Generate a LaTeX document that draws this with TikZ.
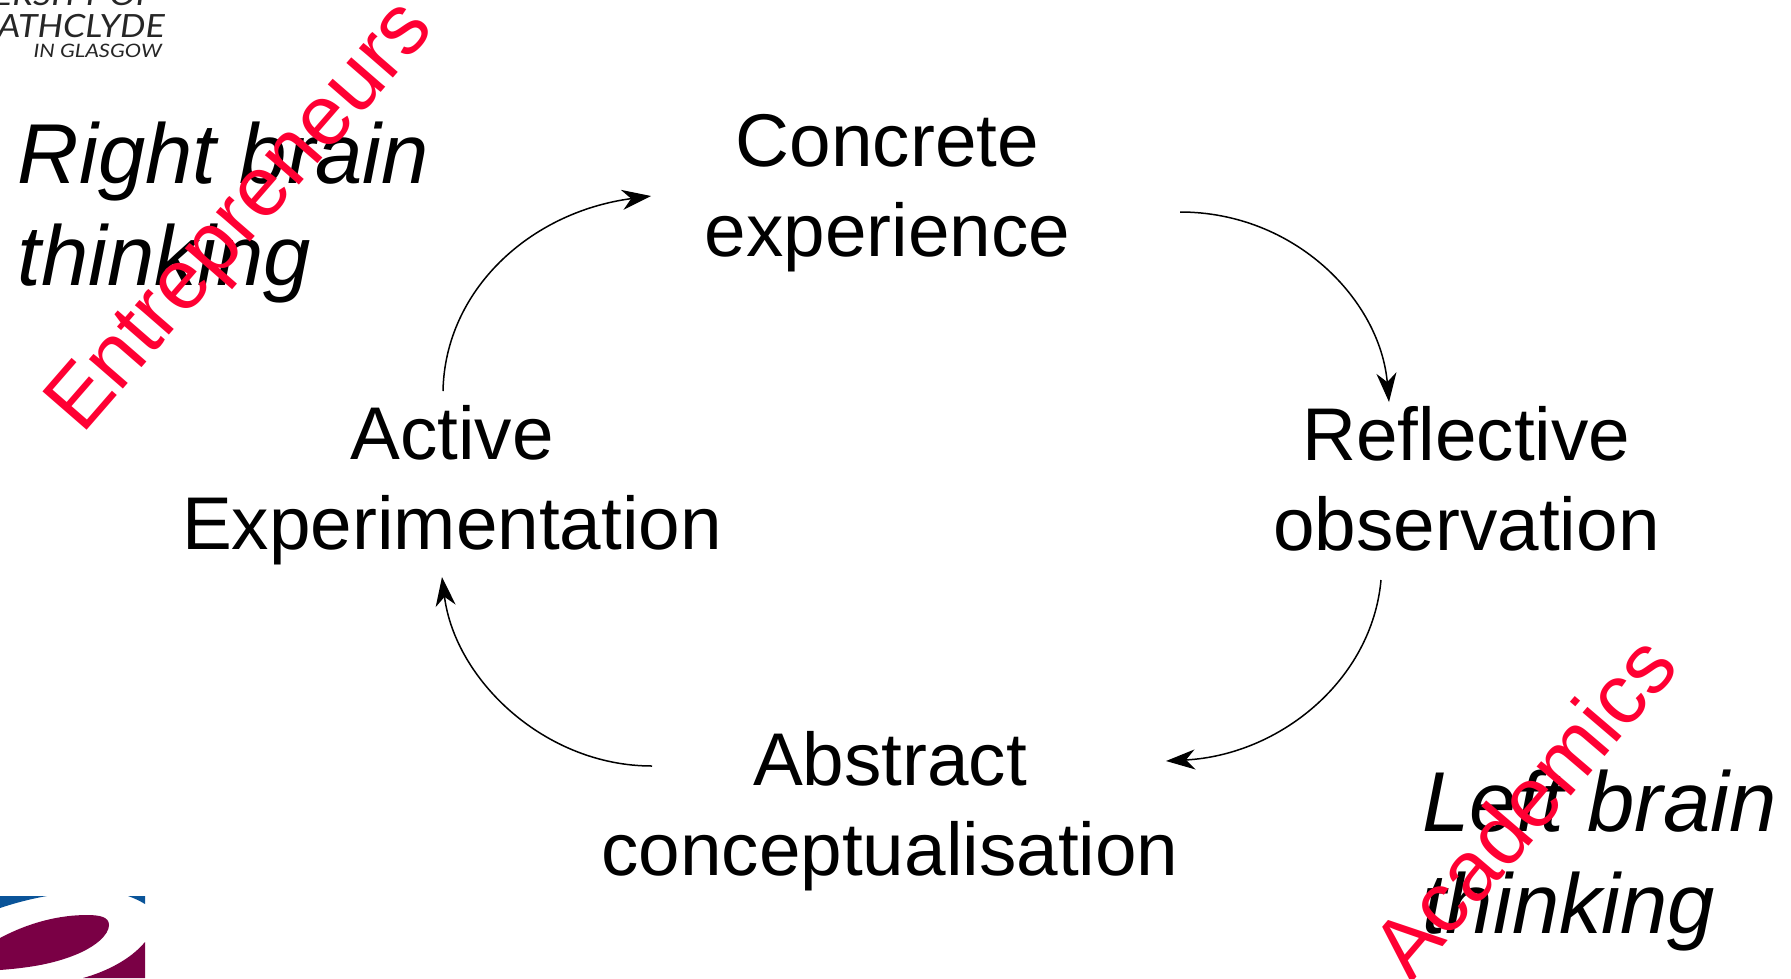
\documentclass[tikz,border=0pt]{standalone}
\usepackage{fontspec}
\setmainfont{Liberation Sans}
\newfontfamily\logofont{Lato}
\usetikzlibrary{arrows.meta}
\definecolor{redword}{HTML}{FF0033}
\definecolor{logoblue}{HTML}{0A5499}
\definecolor{logomaroon}{HTML}{7A0045}
\tikzset{
  stage/.style={font=\fontsize{74.7}{90}\selectfont,align=center,inner sep=0pt,anchor=center,text=black},
  brain/.style={font=\fontsize{85}{102}\selectfont\itshape,align=left,inner sep=0pt,anchor=center,text=black},
  tag/.style={font=\fontsize{85}{90}\selectfont,text=redword,inner sep=0pt,anchor=base west},
  cyc/.style={line width=1.5pt,-{Stealth[length=29pt,width=20pt,inset=9pt]}},
  logotext/.style={text=black!85,inner sep=0pt,anchor=base east}
}
\begin{document}
\begin{tikzpicture}[x=1pt,y=-1pt]
\useasboundingbox (0,0) rectangle (1791,978);
\clip (0,0) rectangle (1791,978);
\fill[white] (0,0) rectangle (1791,978);
% bottom-left logo fragment
\fill[logoblue] (0,896) -- (47,896) .. controls (30,899) and (15,903) .. (0,908) -- cycle;
\fill[logoblue] (128,896) -- (145,896) -- (145,904) .. controls (140,901) and (134,898) .. (128,896) -- cycle;
\fill[logomaroon] (0,938) .. controls (30,922) and (60,915) .. (87,915) .. controls (100,915) and (109,917) .. (109,925) .. controls (109,935) and (95,947) .. (75,955) .. controls (50,965) and (25,968) .. (0,970) -- cycle;
\fill[logomaroon] (83,978) .. controls (105,972) and (130,960) .. (145,942) -- (145,978) -- cycle;
% top-left logo fragment
\node[logotext,font=\logofont\itshape\fontsize{31}{31}\selectfont] (logoa) at (155,5) {\scalebox{1.15}[1]{ERSITY OF}};
\node[logotext,font=\logofont\itshape\fontsize{32}{32}\selectfont] (logob) at (165,37) {\scalebox{1.12}[1]{ATHCLYDE}};
\node[logotext,font=\logofont\itshape\fontsize{18.5}{18}\selectfont] (logoc) at (162,57) {\scalebox{1.18}[1]{IN GLASGOW}};
% stages
\node[stage] (concrete) at (887.5,193.5) {Concrete\\experience};
\node[stage] (active) at (452,485.5) {Active\\Experimentation};
\node[stage] (reflective) at (1466.5,478.5) {Reflective\\observation};
\node[stage] (abstract) at (890,811.5) {Abstract\\conceptualisation};
% connectors
\draw[cyc] ([shift={(292.5,18.5)}]concrete.center) .. controls (1295,212) and (1380,300) .. ([shift={(-77.5,-76.5)}]reflective.center);
\draw[cyc] ([shift={(-85.5,101.5)}]reflective.center) .. controls (1372,680) and (1280,755) .. ([shift={(276,-50.5)}]abstract.center);
\draw[cyc] ([shift={(-238,-45.5)}]abstract.center) .. controls (545,766) and (455,680) .. ([shift={(-10,91.5)}]active.center);
\draw[cyc] ([shift={(-9,-94.5)}]active.center) .. controls (445,290) and (530,212) .. ([shift={(-236.5,2.5)}]concrete.center);
% brain labels
\node[brain] (right) at (223.5,213) {Right brain\\thinking};
\node[brain] (left) at (1599.5,861) {Left brain\\thinking};
% red tags
\node[tag,rotate=49] (entre) at (82,436) {Entrepreneurs};
\node[tag,rotate=49.5] (acad) at (1411,984) {Academics};
\end{tikzpicture}
\end{document}
